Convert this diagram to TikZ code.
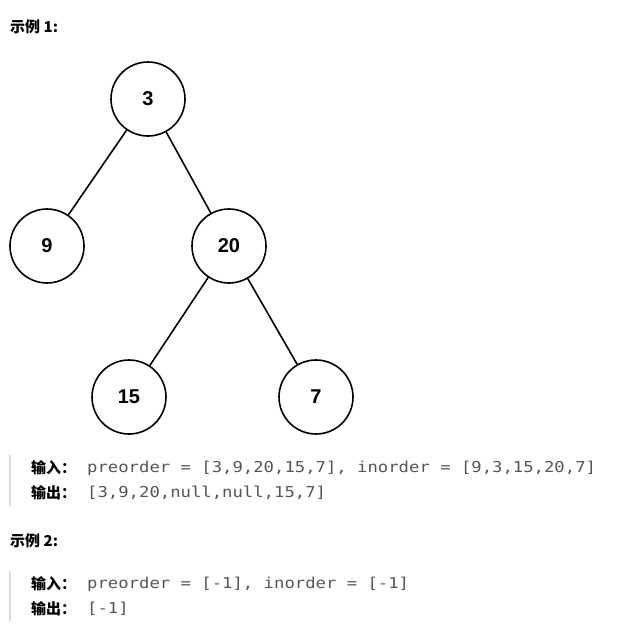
\documentclass[tikz,border=0pt]{standalone}
\usepackage{fontspec}
\newfontfamily\cjk{Noto Sans CJK SC}
\newfontfamily\codefont[FakeStretch=1.15]{DejaVu Sans Mono}
\setmainfont{Liberation Sans}
\definecolor{codegray}{HTML}{555555}
\definecolor{barcol}{HTML}{DDDDDD}
\tikzset{
  tn/.style={circle,draw,line width=1.6pt,minimum size=74pt,inner sep=0pt,font=\fontsize{20}{20}\selectfont\bfseries},
  edge/.style={line width=1.6pt},
  lbl/.style={anchor=west,inner sep=0pt,font=\cjk\bfseries\fontsize{15}{15}\selectfont},
  code/.style={anchor=west,inner sep=0pt,text=codegray,font=\codefont\fontsize{15}{15}\selectfont},
  bar/.style={barcol,line width=2pt}
}
\begin{document}
\begin{tikzpicture}[x=1pt,y=-1pt]
\useasboundingbox (0,0) rectangle (628,630);
\node[lbl] (h1) at (10,27) {示例 1:};
\node[tn] (n3) at (148,99) {3};
\node[tn] (n9) at (47,246) {9};
\node[tn] (n20) at (229,246) {20};
\node[tn] (n15) at (129,397) {15};
\node[tn] (n7) at (316,397) {7};
\draw[edge] (n3) -- (n9);
\draw[edge] (n3) -- (n20);
\draw[edge] (n20) -- (n15);
\draw[edge] (n20) -- (n7);
\coordinate (b1t) at (10,455); \coordinate (b1b) at (10,506);
\draw[bar] (b1t) -- (b1b);
\node[lbl] (i1) at (31,468) {输入：};
\node[code] (c1) at (87,468) {preorder = [3,9,20,15,7], inorder = [9,3,15,20,7]};
\node[lbl] (o1) at (31,493) {输出：};
\node[code] (c2) at (87,493) {[3,9,20,null,null,15,7]};
\node[lbl] (h2) at (10,541) {示例 2:};
\coordinate (b2t) at (10,571); \coordinate (b2b) at (10,622);
\draw[bar] (b2t) -- (b2b);
\node[lbl] (i2) at (31,584) {输入：};
\node[code] (c3) at (87,584) {preorder = [-1], inorder = [-1]};
\node[lbl] (o2) at (31,609) {输出：};
\node[code] (c4) at (87,609) {[-1]};
\end{tikzpicture}
\end{document}
